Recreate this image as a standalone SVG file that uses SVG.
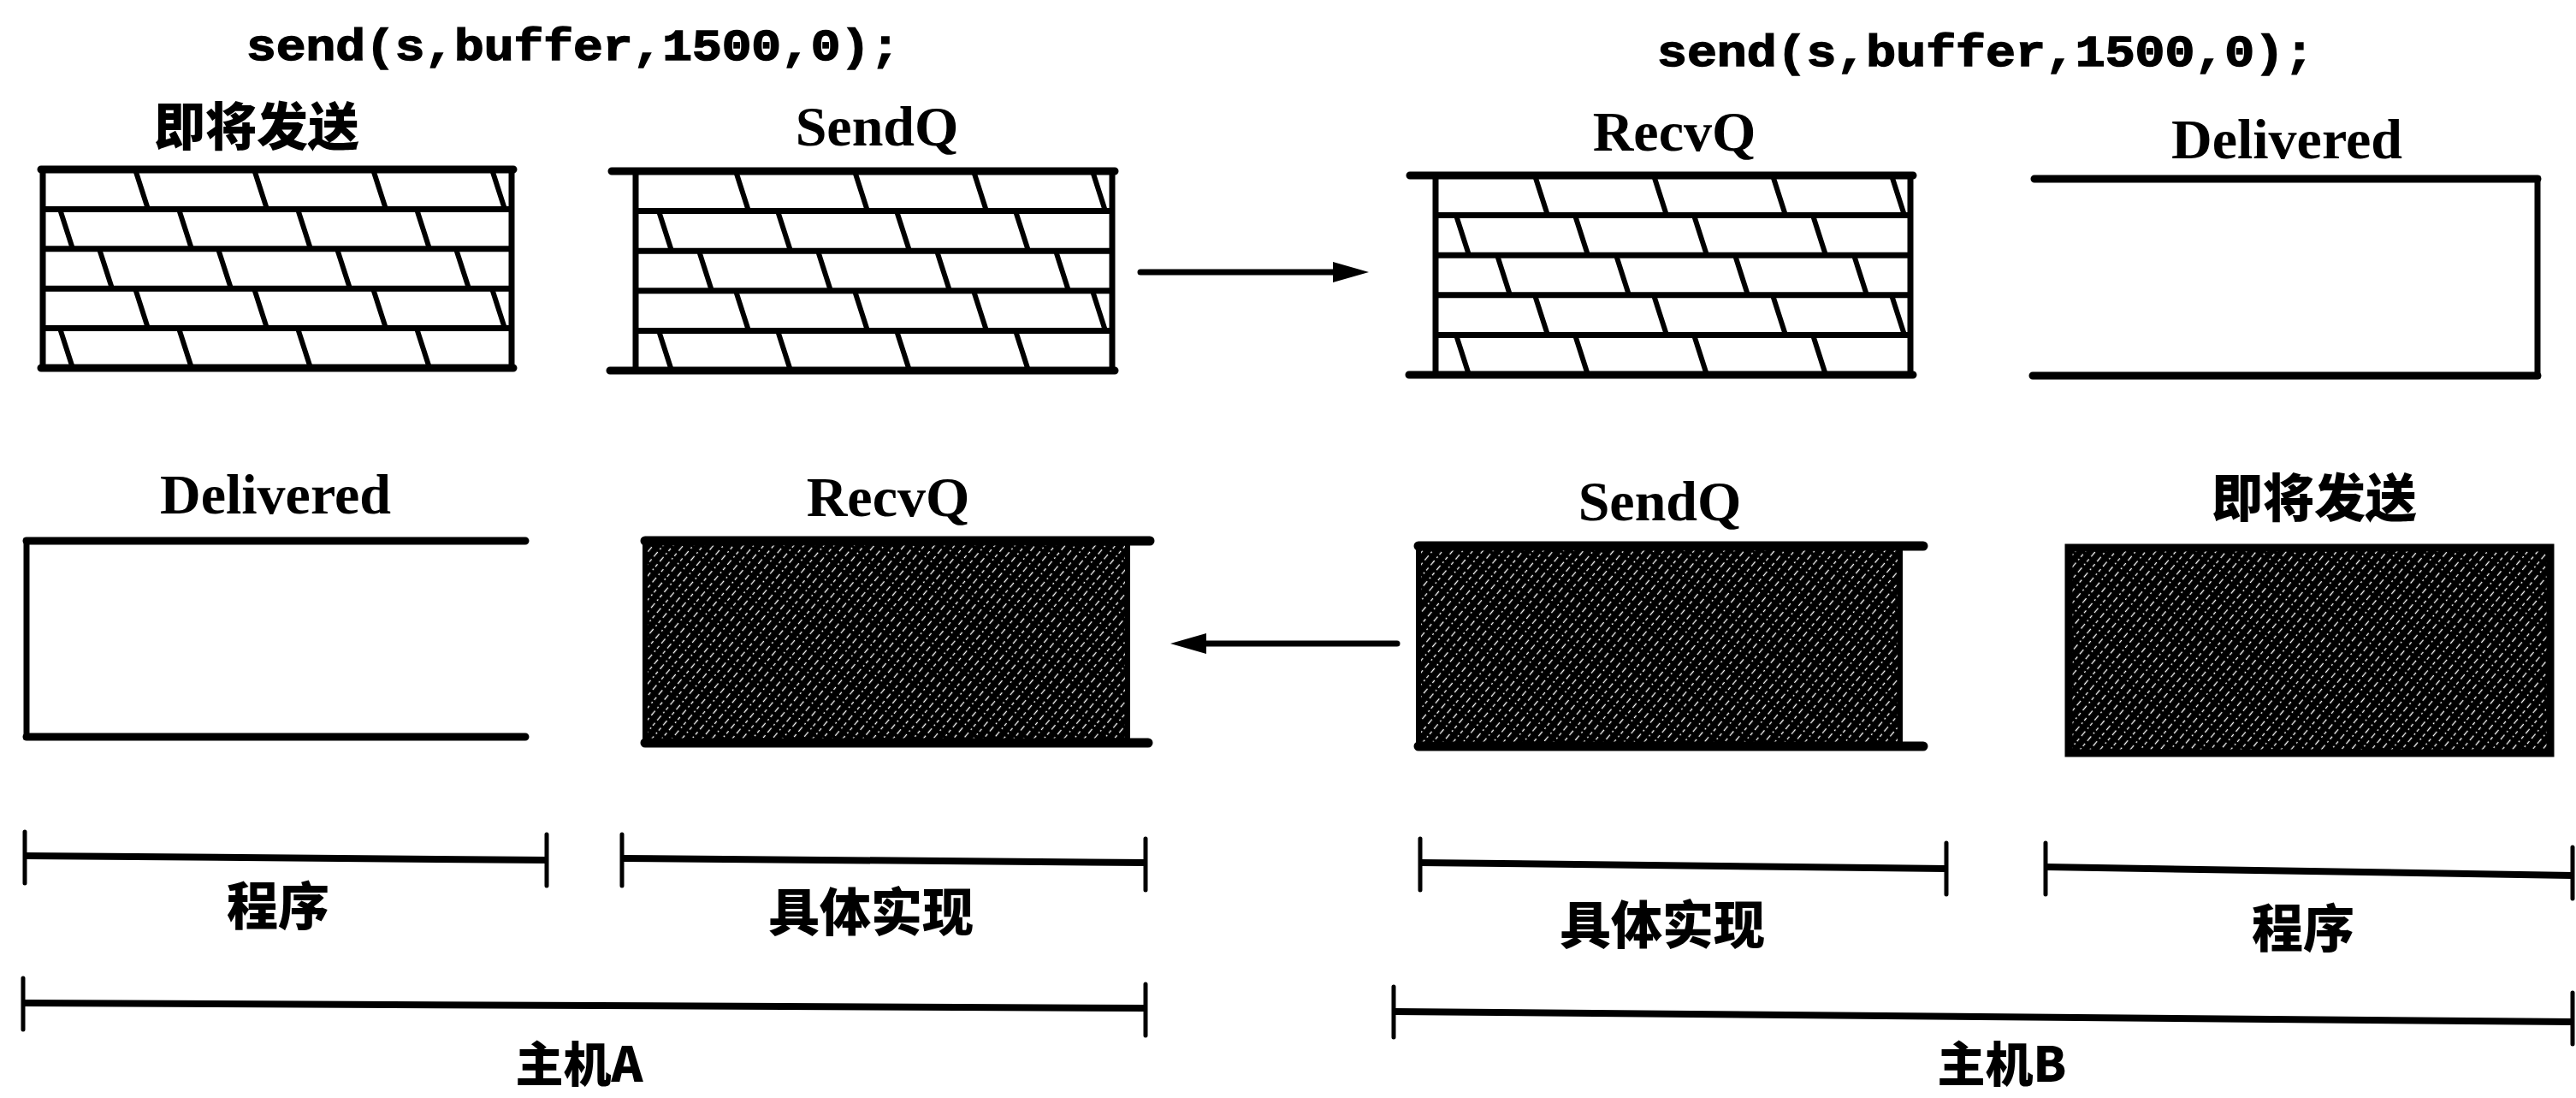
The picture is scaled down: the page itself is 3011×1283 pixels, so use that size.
<svg xmlns="http://www.w3.org/2000/svg" width="3011" height="1283" viewBox="0 0 3011 1283">
<style>
.bg{fill:#fff}
.code{font-family:"Liberation Mono","Courier New",monospace;font-weight:bold;font-size:52px;fill:#000;stroke:#000;stroke-width:1.5}
.lab{font-family:"Liberation Serif","Times New Roman",serif;font-weight:bold;font-size:66px;fill:#000;text-anchor:middle}
.cjk{font-family:"Noto Sans CJK SC","Noto Sans",sans-serif;font-weight:900;font-size:60px;fill:#000;text-anchor:middle}
.edge{fill:none;stroke:#000;stroke-width:9;stroke-linecap:round}
.wall{fill:none;stroke:#000;stroke-width:7;stroke-linecap:square}
.row{fill:none;stroke:#000;stroke-width:7}
.brick{fill:none;stroke:#000;stroke-width:6}
.dark{fill:url(#hatch);stroke:#000;stroke-width:6}
.conn{fill:none;stroke:#000;stroke-width:7;stroke-linecap:round}
.bar{fill:none;stroke:#000;stroke-width:8}
.tick{fill:none;stroke:#000;stroke-width:5;stroke-linecap:round}
</style>
<defs>
<pattern id="hatch" patternUnits="userSpaceOnUse" width="9" height="24" patternTransform="rotate(40)">
<rect width="9" height="24" fill="#000"/>
<line x1="4.5" y1="0" x2="4.5" y2="24" stroke="#fff" stroke-width="1.3" stroke-dasharray="7 4 4 3 2 4"/>
</pattern>
<marker id="arrow" markerUnits="userSpaceOnUse" markerWidth="44" markerHeight="28" refX="0" refY="14" orient="auto" viewBox="0 0 44 28">
<path d="M0 2 L42 14 L0 26 Z" fill="#000"/>
</marker>
</defs>
<rect class="bg" width="3011" height="1283"/>

<g id="codeA"><text class="code" x="288" y="70" textLength="764" lengthAdjust="spacingAndGlyphs">send(s,buffer,1500,0);</text></g>
<g id="codeB"><text class="code" x="1937" y="77" textLength="768" lengthAdjust="spacingAndGlyphs">send(s,buffer,1500,0);</text></g>

<g id="a-tosend">
<text class="cjk" x="300" y="170">即将发送</text>
<rect class="wall" x="50" y="198" width="548" height="232"/>
<path class="edge" d="M48 198H600M48 430H600"/>
<path class="row" d="M50 244.4H598M50 290.8H598M50 337.2H598M50 383.6H598"/>
<path class="brick" d="M158 198L173 244.4M297 198L312 244.4M436 198L451 244.4M575 198L590 244.4
M70 244.4L85 290.8M209 244.4L224 290.8M348 244.4L363 290.8M487 244.4L502 290.8
M116 290.8L131 337.2M255 290.8L270 337.2M394 290.8L409 337.2M533 290.8L548 337.2
M158 337.2L173 383.6M297 337.2L312 383.6M436 337.2L451 383.6M575 337.2L590 383.6
M70 383.6L85 430M209 383.6L224 430M348 383.6L363 430M487 383.6L502 430"/>
</g>

<g id="a-sendq">
<text class="lab" x="1025" y="170">SendQ</text>
<path class="edge" d="M715 200H1303M713 433H1303"/>
<path class="wall" d="M743 200V433M1300 200V433"/>
<path class="row" d="M743 246.6H1300M743 293.2H1300M743 339.8H1300M743 386.4H1300"/>
<path class="brick" d="M860 200L875 246.6M999 200L1014 246.6M1138 200L1153 246.6M1277 200L1292 246.6
M770 246.6L785 293.2M909 246.6L924 293.2M1048 246.6L1063 293.2M1187 246.6L1202 293.2
M817 293.2L832 339.8M956 293.2L971 339.8M1095 293.2L1110 339.8M1234 293.2L1249 339.8
M860 339.8L875 386.4M999 339.8L1014 386.4M1138 339.8L1153 386.4M1277 339.8L1292 386.4
M770 386.4L785 433M909 386.4L924 433M1048 386.4L1063 433M1187 386.4L1202 433"/>
</g>

<g id="b-recvq">
<text class="lab" x="1957" y="176">RecvQ</text>
<path class="edge" d="M1648 205H2236M1647 438H2236"/>
<path class="wall" d="M1678 205V438M2233 205V438"/>
<path class="row" d="M1678 251.6H2233M1678 298.2H2233M1678 344.8H2233M1678 391.4H2233"/>
<path class="brick" d="M1794 205L1809 251.6M1933 205L1948 251.6M2072 205L2087 251.6M2211 205L2226 251.6
M1702 251.6L1717 298.2M1841 251.6L1856 298.2M1980 251.6L1995 298.2M2119 251.6L2134 298.2
M1750 298.2L1765 344.8M1889 298.2L1904 344.8M2028 298.2L2043 344.8M2167 298.2L2182 344.8
M1794 344.8L1809 391.4M1933 344.8L1948 391.4M2072 344.8L2087 391.4M2211 344.8L2226 391.4
M1702 391.4L1717 438M1841 391.4L1856 438M1980 391.4L1995 438M2119 391.4L2134 438"/>
</g>

<g id="b-delivered">
<text class="lab" x="2673" y="185">Delivered</text>
<path class="edge" d="M2378 209H2966M2376 439H2966"/>
<path class="wall" d="M2966 209V439"/>
</g>

<g id="a-delivered">
<text class="lab" x="322" y="600">Delivered</text>
<path class="edge" d="M31 632H614M31 861H614"/>
<path class="wall" d="M31 632V861"/>
</g>

<g id="a-recvq">
<text class="lab" x="1038" y="603">RecvQ</text>
<rect class="dark" x="754" y="633" width="564" height="234"/>
<path class="edge" d="M754 632H1344M754 868H1342" style="stroke-width:11"/>
</g>

<g id="b-sendq">
<text class="lab" x="1940" y="608">SendQ</text>
<rect class="dark" x="1658" y="639" width="563" height="233"/>
<path class="edge" d="M1658 638H2248M1658 872H2248" style="stroke-width:11"/>
</g>

<g id="b-tosend">
<text class="cjk" x="2705" y="604">即将发送</text>
<rect class="dark" x="2418" y="640" width="563" height="240" style="stroke-width:9"/>
</g>

<g id="connectors">
<line class="conn" x1="1333" y1="318" x2="1558" y2="318" marker-end="url(#arrow)"/>
<line class="conn" x1="1633" y1="752" x2="1410" y2="752" marker-end="url(#arrow)"/>
</g>

<g id="a-program">
<path class="bar" d="M29 1000L639 1005"/>
<path class="tick" d="M29 972V1032M639 975V1035"/>
<text class="cjk" x="325" y="1081">程序</text>
</g>
<g id="a-impl">
<path class="bar" d="M727 1003L1339 1008"/>
<path class="tick" d="M727 975V1035M1339 980V1040"/>
<text class="cjk" x="1018" y="1088">具体实现</text>
</g>
<g id="a-host">
<path class="bar" d="M27 1172L1339 1178"/>
<path class="tick" d="M27 1143V1203M1339 1150V1210"/>
<text class="cjk" x="677" y="1264" style="font-size:56px">主机A</text>
</g>
<g id="b-impl">
<path class="bar" d="M1660 1008L2275 1015"/>
<path class="tick" d="M1660 980V1040M2275 985V1045"/>
<text class="cjk" x="1943" y="1103">具体实现</text>
</g>
<g id="b-program">
<path class="bar" d="M2391 1013L3007 1023"/>
<path class="tick" d="M2391 985V1045M3007 990V1050"/>
<text class="cjk" x="2692" y="1107">程序</text>
</g>
<g id="b-host">
<path class="bar" d="M1629 1182L3007 1194"/>
<path class="tick" d="M1629 1153V1212M3007 1160V1220"/>
<text class="cjk" x="2340" y="1264" style="font-size:56px">主机B</text>
</g>
</svg>
